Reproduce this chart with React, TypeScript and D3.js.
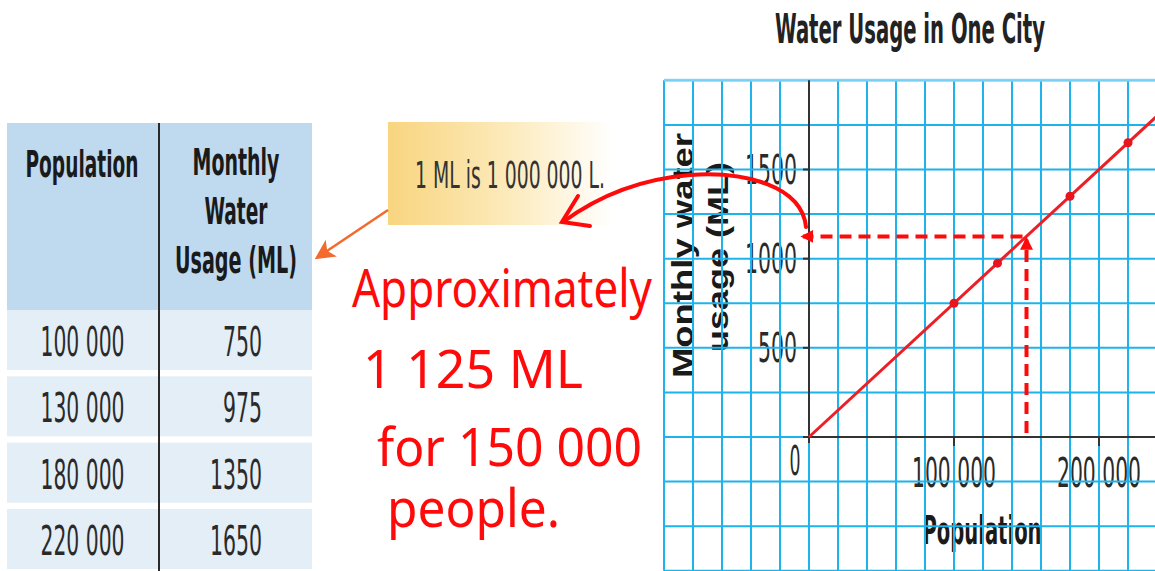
import React from "react";
import * as d3 from "d3";

// table + chart data
const populations = [100000, 130000, 180000, 220000];
const usage = [750, 975, 1350, 1650];
const yTicks = [500, 1000, 1500];
const xTicks = [100000, 200000];
const trendPop = [0, 240000];
const trendUsage = [0, 1800];
const estimatePop = 150000;
const estimateUsage = 1125;
const popHeader = ["Population"];
const usageHeader = ["Monthly", "Water", "Usage (ML)"];
const noteText = ["Approximately", "1 125 ML", "for 150 000", "people."];
const calloutText = "1 ML is 1 000 000 L.";
const chartTitle = "Water Usage in One City";
const yTitle = ["Monthly water", "usage (ML)"];
const xTitle = "Population";

const W = 1155;
const H = 571;
const COND = "'Liberation Sans Narrow','Arial Narrow','DejaVu Sans Condensed',sans-serif";
const GRID = "#1db4ec";
const RED = "#ff0a0a";

const fmt = d3
  .formatLocale({ decimal: ".", thousands: " ", grouping: [3], currency: ["", ""] })
  .format(",");
// rough width of the condensed digits in the picture
const numW = (s: string) => s.split("").reduce((a, c) => a + (c === " " ? 6 : 13), 0);

const x = d3.scaleLinear().domain([0, 200000]).range([809, 1099]);
const y = d3.scaleLinear().domain([0, 1500]).range([437, 169.5]);
const rows = d3
  .scaleBand<string>()
  .domain(populations.map(String))
  .range([310, 569])
  .paddingInner(0.095);

const gridX = d3.range(-100000, 240001, 20000);
const gridY = d3.range(-750, 2001, 250);

const App: React.FC = () => {
  const line = d3
    .line<number>()
    .x((d) => x(trendPop[d]))
    .y((d) => y(trendUsage[d]));

  const ex = x(estimatePop);
  const ey = y(estimateUsage);

  return (
    <svg
      width={W}
      height={H}
      style={{ position: "absolute", left: 0, top: 0, background: "#fff" }}
    >
      <defs>
        <linearGradient id="note" x1="0" x2="1" y1="0" y2="0">
          <stop offset="0" stopColor="#f8d57f" />
          <stop offset="0.55" stopColor="#fcebbd" />
          <stop offset="1" stopColor="#ffffff" />
        </linearGradient>
        <clipPath id="plot">
          <rect x={x(-100000)} y={y(2000)} width={W - x(-100000)} height={y(-750) - y(2000)} />
        </clipPath>
        <marker id="redHead" viewBox="0 0 10 10" refX="8" refY="5" markerUnits="userSpaceOnUse"
          markerWidth="13" markerHeight="13" orient="auto">
          <path d="M0,0 L10,5 L0,10 z" fill={RED} />
        </marker>
        <marker id="orangeHead" viewBox="0 0 10 10" refX="8" refY="5" markerUnits="userSpaceOnUse"
          markerWidth="20" markerHeight="20" orient="auto">
          <path d="M0,0 L10,5 L0,10 L2.5,5 z" fill="#f26a2e" />
        </marker>
      </defs>

      {/* table */}
      <rect x={7} y={123} width={305} height={187} fill="#bfd9ee" />
      {populations.map((p) => (
        <rect key={p} x={7} y={rows(String(p))} width={305} height={rows.bandwidth()} fill="#e3eef7" />
      ))}
      <line x1={159} x2={159} y1={123} y2={H} stroke="#2a2a2a" strokeWidth={2} />
      {popHeader.map((t, i) => (
        <text key={t} x={82} y={177 + i * 49} fontFamily={COND} fontWeight="bold" fontSize={38}
          textAnchor="middle" textLength={113} lengthAdjust="spacingAndGlyphs" fill="#1a1a1a">
          {t}
        </text>
      ))}
      {usageHeader.map((t, i) => (
        <text key={t} x={236} y={175 + i * 49} fontFamily={COND} fontWeight="bold" fontSize={38}
          textAnchor="middle" textLength={[87, 63, 122][i]} lengthAdjust="spacingAndGlyphs" fill="#1a1a1a">
          {t}
        </text>
      ))}
      {populations.map((p, i) => {
        const top = rows(String(p))!;
        return (
          <g key={p} fontFamily={COND} fontSize={40} fill="#2a2a2a">
            <text x={82.5} y={top + 46} textAnchor="middle" textLength={numW(fmt(p))} lengthAdjust="spacingAndGlyphs">
              {fmt(p)}
            </text>
            <text x={262} y={top + 46} textAnchor="end" textLength={numW(String(usage[i]))} lengthAdjust="spacingAndGlyphs">
              {usage[i]}
            </text>
          </g>
        );
      })}

      {/* callout */}
      <rect x={388} y={122} width={225} height={103} fill="url(#note)" />
      <text x={415} y={188} fontFamily={COND} fontSize={37} fill="#333"
        textLength={190} lengthAdjust="spacingAndGlyphs">
        {calloutText}
      </text>
      <line x1={388} y1={210} x2={318} y2={257} stroke="#f26a2e" strokeWidth={2.5} markerEnd="url(#orangeHead)" />

      {/* chart title */}
      <text x={910} y={43} fontFamily={COND} fontWeight="bold" fontSize={41} textAnchor="middle"
        textLength={270} lengthAdjust="spacingAndGlyphs" fill="#222">
        {chartTitle}
      </text>

      {/* y axis title (under the grid) */}
      {yTitle.map((t, i) => (
        <text key={t} transform={`translate(${[693, 728][i]},${[255.5, 257][i]}) rotate(-90)`}
          fontFamily="'Liberation Sans',Arial,sans-serif" fontWeight="bold" fontSize={30}
          textAnchor="middle" textLength={[245, 190][i]} lengthAdjust="spacingAndGlyphs" fill="#1a1a1a">
          {t}
        </text>
      ))}

      {/* tick labels */}
      {yTicks.map((t) => (
        <text key={t} x={797} y={y(t) + 14} fontFamily={COND} fontSize={40} textAnchor="end"
          textLength={numW(String(t))} lengthAdjust="spacingAndGlyphs" fill="#2a2a2a">
          {t}
        </text>
      ))}
      <text x={795} y={475} fontFamily={COND} fontSize={40} textAnchor="middle" textLength={11}
        lengthAdjust="spacingAndGlyphs" fill="#2a2a2a">
        0
      </text>
      {xTicks.map((t) => (
        <text key={t} x={x(t)} y={487} fontFamily={COND} fontSize={40} textAnchor="middle"
          textLength={numW(fmt(t))} lengthAdjust="spacingAndGlyphs" fill="#2a2a2a">
          {fmt(t)}
        </text>
      ))}
      <text x={982} y={544} fontFamily={COND} fontWeight="bold" fontSize={39} textAnchor="middle"
        textLength={119} lengthAdjust="spacingAndGlyphs" fill="#1a1a1a">
        {xTitle}
      </text>

      {/* grid */}
      <g stroke={GRID} strokeWidth={2}>
        {gridX.map((v) => (
          <line key={v} x1={x(v)} x2={x(v)} y1={y(2000)} y2={y(-750)} />
        ))}
        {gridY.map((v) => (
          <line key={v} x1={x(-100000)} x2={W} y1={y(v)} y2={y(v)} />
        ))}
      </g>
      <line x1={x(-100000)} x2={W} y1={y(2000)} y2={y(2000)} stroke="#8fd6f5" strokeWidth={3} opacity={0.8} />

      {/* axes */}
      <g stroke="#333" strokeWidth={2}>
        <line x1={x(0)} x2={x(0)} y1={y(2000)} y2={y(0) + 6} />
        <line x1={x(0) - 6} x2={W} y1={y(0)} y2={y(0)} />
        {yTicks.map((t) => (
          <line key={t} x1={x(0) - 6} x2={x(0)} y1={y(t)} y2={y(t)} />
        ))}
        {xTicks.map((t) => (
          <line key={t} x1={x(t)} x2={x(t)} y1={y(0)} y2={y(0) + 9} />
        ))}
      </g>

      {/* data line + points */}
      <path d={line(d3.range(trendPop.length)) || ""} fill="none" stroke="#ec1f27" strokeWidth={3}
        clipPath="url(#plot)" />
      {populations.map((p, i) => (
        <circle key={p} cx={x(p)} cy={y(usage[i])} r={4.5} fill="#e8151f" />
      ))}

      {/* estimate, dashed */}
      <g stroke={RED} strokeWidth={4} strokeDasharray="12,7" fill="none">
        <line x1={ex} y1={y(0) - 4} x2={ex} y2={ey + 3} markerEnd="url(#redHead)" />
        <line x1={ex - 4} y1={ey} x2={x(0) - 6} y2={ey} markerEnd="url(#redHead)" />
      </g>

      {/* handwritten note */}
      <g fill="none" stroke={RED} strokeWidth={4} strokeLinecap="round">
        <path d="M806,227 C802,186 745,171 690,175 C640,179 597,197 563,222" />
        <path d="M578,196 L562,222 L590,226" />
      </g>
      {noteText.map((t, i) => (
        <text key={t} x={[352, 363, 377, 387][i]} y={[307, 388, 466, 527][i]}
          fontFamily="'Noto Sans',sans-serif" fontSize={52} fill={RED}
          textLength={[300, 220, 265, 173][i]} lengthAdjust="spacingAndGlyphs">
          {t}
        </text>
      ))}
    </svg>
  );
};

export default App;
